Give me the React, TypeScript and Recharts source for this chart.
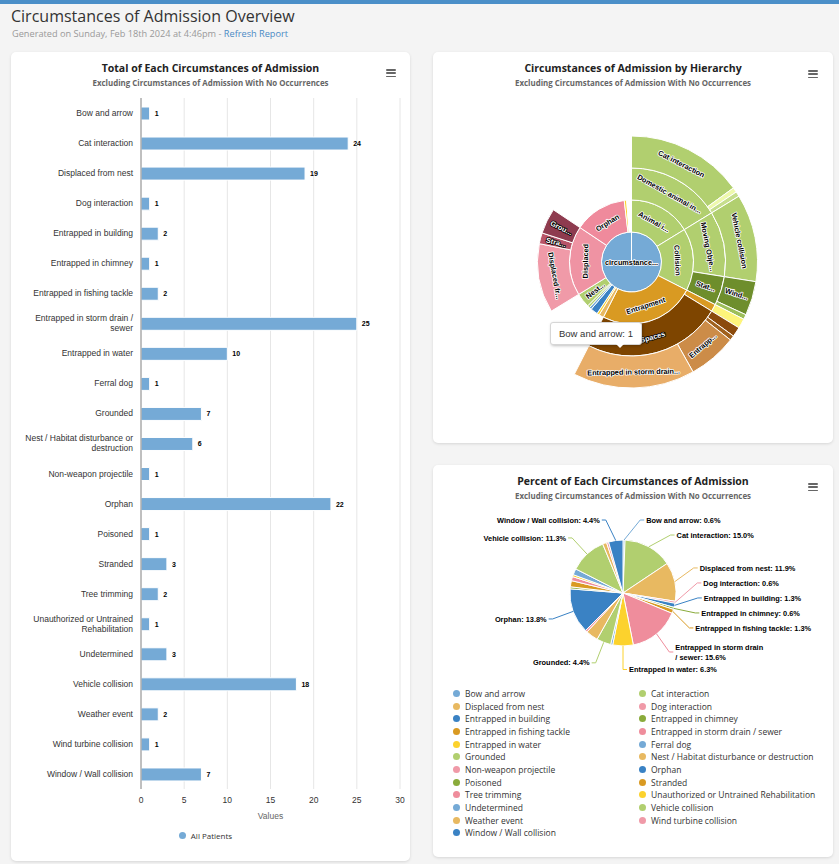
import React from 'react';
import { BarChart, Bar, XAxis, YAxis, CartesianGrid, LabelList, Legend, PieChart, Pie, Cell } from 'recharts';

// ---------- data ----------
const categories = [
  'Bow and arrow', 'Cat interaction', 'Displaced from nest', 'Dog interaction', 'Entrapped in building',
  'Entrapped in chimney', 'Entrapped in fishing tackle', 'Entrapped in storm drain / sewer', 'Entrapped in water',
  'Ferral dog', 'Grounded', 'Nest / Habitat disturbance or destruction', 'Non-weapon projectile', 'Orphan',
  'Poisoned', 'Stranded', 'Tree trimming', 'Unauthorized or Untrained Rehabilitation', 'Undetermined',
  'Vehicle collision', 'Weather event', 'Wind turbine collision', 'Window / Wall collision',
];
const patientCounts = [1, 24, 19, 1, 2, 1, 2, 25, 10, 1, 7, 6, 1, 22, 1, 3, 2, 1, 3, 18, 2, 1, 7];
const valueTicks = [0, 5, 10, 15, 20, 25, 30];
const seriesName = 'All Patients';

const sunburstRootName = 'circumstances of admission';
const sunburstLeafOrder = [
  'Cat interaction', 'Dog interaction', 'Ferral dog',
  'Vehicle collision', 'Window / Wall collision', 'Wind turbine collision',
  'Entrapped in fishing tackle', 'Entrapped in building', 'Entrapped in chimney', 'Entrapped in water',
  'Entrapped in storm drain / sewer',
  'Weather event', 'Poisoned', 'Undetermined', 'Bow and arrow', 'Non-weapon projectile',
  'Nest / Habitat disturbance or destruction',
  'Displaced from nest', 'Stranded', 'Grounded',
  'Orphan', 'Unauthorized or Untrained Rehabilitation', 'Tree trimming',
];
const sunburstLeafPaths: string[][] = [
  ['Animal interaction', 'Domestic animal interaction'], ['Animal interaction', 'Domestic animal interaction'], ['Animal interaction', 'Domestic animal interaction'],
  ['Collision', 'Moving Object Collision'], ['Collision', 'Stationary Object Collision'], ['Collision', 'Stationary Object Collision'],
  ['Entrapment', 'Entanglement'], ['Entrapment', 'Spaces'], ['Entrapment', 'Spaces'], ['Entrapment', 'Spaces'],
  ['Entrapment', 'Spaces'],
  [], [], [], [], [],
  [],
  ['Displaced'], ['Displaced'], ['Displaced'],
  [], [], [],
];

const pieLabelShown = [
  'Bow and arrow', 'Cat interaction', 'Displaced from nest', 'Dog interaction', 'Entrapped in building',
  'Entrapped in chimney', 'Entrapped in fishing tackle', 'Entrapped in storm drain / sewer', 'Entrapped in water',
  'Grounded', 'Orphan', 'Vehicle collision', 'Window / Wall collision',
];

// ---------- styles ----------
const palette = ['#75aad6', '#b1cf6f', '#e8b961', '#f09aa8', '#3a82c4', '#8aab3b', '#d99a22', '#ef8d9c', '#fcd22d'];
const sunColors: Record<string, string> = {
  [sunburstRootName]: '#75aad6',
  'Animal interaction': '#b1cf6f', 'Domestic animal interaction': '#b1cf6f', 'Cat interaction': '#b1cf6f',
  'Dog interaction': '#eef9ac', 'Ferral dog': '#c6de8c',
  'Collision': '#b1cf6f', 'Moving Object Collision': '#b1cf6f', 'Vehicle collision': '#b1cf6f',
  'Stationary Object Collision': '#6e8e2c', 'Window / Wall collision': '#6e8e2c', 'Wind turbine collision': '#9dbf5a',
  'Entrapment': '#d99a22', 'Entanglement': '#d99a22', 'Entrapped in fishing tackle': '#fdf47a',
  'Spaces': '#7e4500', 'Entrapped in building': '#8b4a0c', 'Entrapped in chimney': '#a0611e',
  'Entrapped in water': '#cc8c48', 'Entrapped in storm drain / sewer': '#e8ad68',
  'Weather event': '#e8b961', 'Poisoned': '#fcd22d', 'Undetermined': '#3a82c4', 'Bow and arrow': '#75aad6',
  'Non-weapon projectile': '#b1cf6f', 'Nest / Habitat disturbance or destruction': '#b1cf6f',
  'Displaced': '#ef93a3', 'Displaced from nest': '#f09aa8', 'Stranded': '#b85468', 'Grounded': '#8e3b4f',
  'Orphan': '#ef8a9c', 'Unauthorized or Untrained Rehabilitation': '#fcd22d', 'Tree trimming': '#ffffff',
};
const FONT_UI = '"Open Sans", "Noto Sans", sans-serif';
const FONT_CHART = '"Liberation Sans", Arial, sans-serif';

// ---------- derived tables ----------
const total = patientCounts.reduce((a, b) => a + b, 0);
const barData = categories.map((name, i) => ({ name, value: patientCounts[i] }));
const pieData = categories.map((name, i) => ({ name, value: patientCounts[i] }));

type Seg = { key: string; name: string; value: number; empty: boolean };
function buildRing(depth: number): Seg[] {
  const segs: Seg[] = [];
  sunburstLeafOrder.forEach((leaf, i) => {
    const path = sunburstLeafPaths[i];
    const v = patientCounts[categories.indexOf(leaf)];
    let name = '';
    let empty = false;
    if (path.length >= depth) name = path[depth - 1];
    else if (path.length === depth - 1) name = leaf;
    else empty = true;
    const key = empty ? '__empty' : [...path.slice(0, depth - 1), name].join('>');
    const last = segs[segs.length - 1];
    if (last && last.key === key) last.value += v;
    else segs.push({ key, name, value: v, empty });
  });
  return segs;
}
const sunRings: Seg[][] = [
  [{ key: 'root', name: sunburstRootName, value: total, empty: false }],
  buildRing(1), buildRing(2), buildRing(3),
];
const sunRadii = [[0, 30], [30, 62], [62, 94], [94, 126]];

function isDark(hex: string) {
  const h = hex.replace('#', '');
  const r = parseInt(h.slice(0, 2), 16), g = parseInt(h.slice(2, 4), 16), b = parseInt(h.slice(4, 6), 16);
  return 0.299 * r + 0.587 * g + 0.114 * b < 120;
}
function truncate(name: string, avail: number, cw = 3.6) {
  const max = Math.floor(avail / cw);
  if (name.length <= max) return name;
  return name.slice(0, Math.max(1, max - 3)).trimEnd() + '...';
}

const makeSunLabel = (depth: number) => (props: any) => {
  const { cx, cy, midAngle, innerRadius, outerRadius, index } = props;
  const seg = sunRings[depth][index];
  if (!seg || seg.empty) return null;
  const color = sunColors[seg.name] || '#ccc';
  const dark = isDark(color);
  const common = {
    fontSize: 7.3, fontWeight: 700, fontFamily: FONT_CHART, fill: dark ? '#fff' : '#000',
    stroke: dark ? '#000' : '#fff', strokeWidth: 1.6, paintOrder: 'stroke' as any, strokeLinejoin: 'round' as any,
    textAnchor: 'middle' as any, dominantBaseline: 'central' as any,
  };
  if (depth === 0) {
    return <text x={cx} y={cy} {...common}>{truncate(seg.name, outerRadius * 2 - 6)}</text>;
  }
  const theta = (((90 - midAngle) % 360) + 360) % 360;
  const rad = (seg.value / total) * 2 * Math.PI;
  const thick = outerRadius - innerRadius;
  const midR = (innerRadius + outerRadius) / 2;
  const arcMid = midR * rad;
  if (arcMid < 9) return null;
  const parallel = outerRadius * rad > 1.5 * thick;
  let rot: number;
  let avail: number;
  if (parallel) {
    rot = theta > 90 && theta < 270 ? theta - 180 : theta;
    avail = arcMid - 4;
  } else {
    rot = theta > 180 ? theta - 270 : theta - 90;
    avail = thick - 6;
  }
  const t = (theta * Math.PI) / 180;
  const x = cx + midR * Math.sin(t);
  const y = cy - midR * Math.cos(t);
  return (
    <text x={x} y={y} transform={`rotate(${rot} ${x} ${y})`} {...common}>
      {truncate(seg.name, avail)}
    </text>
  );
};

// ---------- pie label layout ----------
const PIE_CX = 190, PIE_CY = 128, PIE_R = 53, PIE_LABEL_R = 75;
type PL = { name: string; theta: number; lines: string[]; h: number; right: boolean; ny: number; show: boolean; y: number; ax: number; tx: number };
function wrapPieLabel(text: string): string[] {
  if (text.length <= 36) return [text];
  const cut = text.lastIndexOf(' ', 25);
  return [text.slice(0, cut), text.slice(cut + 1)];
}
function layoutPieLabels(): PL[] {
  let acc = 0;
  const items: PL[] = categories.map((name, i) => {
    const v = patientCounts[i];
    const theta = ((acc + v / 2) / total) * 360;
    acc += v;
    const text = `${name}: ${((v / total) * 100).toFixed(1)}%`;
    const lines = wrapPieLabel(text);
    return {
      name, theta, lines, h: lines.length === 1 ? 15 : 20, right: theta <= 180,
      ny: PIE_CY - PIE_LABEL_R * Math.cos((theta * Math.PI) / 180), show: pieLabelShown.includes(name), y: 0, ax: 0, tx: 0,
    };
  });
  const minTop = PIE_CY - PIE_LABEL_R - 5.5;
  const maxBottom = PIE_CY + PIE_LABEL_R + 12;
  [true, false].forEach((side) => {
    const list = items.filter((it) => it.show && it.right === side).sort((a, b) => a.ny - b.ny);
    const place = (its: PL[], size: number) => {
      const ys = its.map((it) => it.ny);
      const mid = (Math.min(...ys) + Math.max(...ys)) / 2;
      return Math.max(minTop, Math.min(maxBottom - size, mid - size / 2));
    };
    let clusters = list.map((it) => ({ items: [it], top: place([it], it.h), size: it.h }));
    let changed = true;
    let guard = 0;
    while (changed && guard++ < 100) {
      changed = false;
      for (let k = 1; k < clusters.length; k++) {
        const a = clusters[k - 1], b = clusters[k];
        if (a.top + a.size > b.top + 0.01) {
          const its = [...a.items, ...b.items];
          const size = a.size + b.size;
          clusters.splice(k - 1, 2, { items: its, top: place(its, size), size });
          changed = true;
          break;
        }
      }
    }
    clusters.forEach((c) => {
      let off = 0;
      c.items.forEach((it) => {
        it.y = c.top + off + it.h / 2;
        off += it.h;
        const s = Math.max(-1, Math.min(1, (it.y - PIE_CY) / PIE_LABEL_R));
        const dx = PIE_LABEL_R * Math.cos(Math.asin(s));
        it.ax = PIE_CX + (side ? dx : -dx);
        it.tx = it.ax + (side ? 6 : -6);
      });
    });
  });
  return items;
}
const pieLabels = layoutPieLabels();

const renderPieLabel = (props: any) => {
  const { index, cx, cy, outerRadius, fill } = props;
  const it = pieLabels[index];
  if (!it || !it.show) return null;
  const t = (it.theta * Math.PI) / 180;
  const ex = cx + outerRadius * Math.sin(t);
  const ey = cy - outerRadius * Math.cos(t);
  const dir = it.right ? 1 : -1;
  const color = palette[index % palette.length] || fill;
  const lh = 10;
  const start = it.y - ((it.lines.length - 1) * lh) / 2;
  return (
    <g>
      <path d={`M${ex},${ey} L${it.ax},${it.y} L${it.tx - dir * 2},${it.y}`} stroke={color} fill="none" strokeWidth={1} />
      <text textAnchor={it.right ? 'start' : 'end'} fontSize={7.4} fontWeight={700} fontFamily={FONT_CHART} fill="#000"
        stroke="#fff" strokeWidth={1.5} style={{ paintOrder: 'stroke' }}>
        {it.lines.map((l, k) => (
          <tspan key={k} x={it.tx} y={start + k * lh} dy="0.35em">{l}</tspan>
        ))}
      </text>
    </g>
  );
};

// ---------- small components ----------
function wrapTick(label: string, maxChars = 30): string[] {
  const words = label.split(' ');
  const lines: string[] = [];
  let cur = '';
  words.forEach((w) => {
    const next = cur ? cur + ' ' + w : w;
    if (next.length > maxChars && cur) { lines.push(cur); cur = w; } else cur = next;
  });
  if (cur) lines.push(cur);
  return lines;
}
const CategoryTick = (props: any) => {
  const { x, y, payload } = props;
  const lines = wrapTick(String(payload.value));
  const lh = 10;
  const start = y - ((lines.length - 1) * lh) / 2;
  return (
    <text textAnchor="end" fontSize={8.5} fill="#333" fontFamily={FONT_CHART}>
      {lines.map((l, k) => (
        <tspan key={k} x={x} y={start + k * lh} dy="0.35em">{l}</tspan>
      ))}
    </text>
  );
};

const Burger = ({ right, top }: { right: number; top: number }) => (
  <div style={{ position: 'absolute', right, top, width: 10 }}>
    {[0, 1, 2].map((k) => (
      <div key={k} style={{ height: 1.6, background: '#666', marginBottom: 1.8, borderRadius: 1 }} />
    ))}
  </div>
);

const CardTitle = ({ title }: { title: string }) => (
  <>
    <div style={{ position: 'absolute', left: 0, right: 0, top: 9, textAlign: 'center', fontFamily: FONT_UI, fontWeight: 700, fontSize: 10.5, color: '#222', whiteSpace: 'nowrap' }}>{title}</div>
    <div style={{ position: 'absolute', left: 0, right: 0, top: 26, textAlign: 'center', fontFamily: FONT_UI, fontWeight: 700, fontSize: 7.9, color: '#666', whiteSpace: 'nowrap' }}>Excluding Circumstances of Admission With No Occurrences</div>
  </>
);

const cardStyle: React.CSSProperties = {
  position: 'absolute', background: '#fff', borderRadius: 5, boxShadow: '0 1px 3px rgba(0,0,0,0.12)', overflow: 'hidden',
};

export default function App() {
  return (
    <div style={{ position: 'absolute', left: 0, top: 0, width: 839, height: 864, background: '#f4f4f4', overflow: 'hidden', fontFamily: FONT_UI }}>
      <div style={{ position: 'absolute', left: 0, top: 0, width: 839, height: 4, background: '#4b8fc8' }} />
      <div style={{ position: 'absolute', left: 11, top: 5, fontSize: 16, color: '#333', whiteSpace: 'nowrap' }}>Circumstances of Admission Overview</div>
      <div style={{ position: 'absolute', left: 12, top: 27, fontSize: 9.2, color: '#999', whiteSpace: 'nowrap' }}>
        Generated on Sunday, Feb 18th 2024 at 4:46pm - <span style={{ color: '#4a8ac4' }}>Refresh Report</span>
      </div>

      {/* Bar chart card */}
      <div style={{ ...cardStyle, left: 11, top: 52, width: 399, height: 809 }}>
        <CardTitle title="Total of Each Circumstances of Admission" />
        <Burger right={14} top={17} />
        <div style={{ position: 'absolute', left: 0, top: 0 }}>
          <BarChart width={399} height={809} data={barData} layout="vertical" margin={{ top: 46, right: 10, bottom: 16, left: 0 }} barCategoryGap={8}>
            <CartesianGrid horizontal={false} stroke="#e6e6e6" />
            <XAxis type="number" domain={[0, 30]} ticks={valueTicks} axisLine={false} tickLine={false} height={32}
              tick={{ fontSize: 8.5, fill: '#333', fontFamily: FONT_CHART }}
              label={{ value: 'Values', position: 'insideBottom', offset: 2, fontSize: 8.5, fill: '#666', fontFamily: FONT_CHART }} />
            <YAxis type="category" dataKey="name" width={130} axisLine={{ stroke: '#8c8c8c' }} tickLine={false} tick={<CategoryTick />} interval={0} />
            <Legend verticalAlign="bottom" align="center" content={() => (
              <div style={{ height: 24, display: 'flex', justifyContent: 'center', alignItems: 'center', paddingTop: 5, boxSizing: 'border-box' }}>
                <span style={{ width: 7, height: 7, borderRadius: 4, background: '#75aad6', display: 'inline-block', marginRight: 5 }} />
                <span style={{ fontSize: 8, color: '#333', fontFamily: FONT_UI }}>{seriesName}</span>
              </div>
            )} />
            <Bar dataKey="value" name={seriesName} fill="#75aad6" stroke="#ffffff" strokeWidth={1} barSize={13} isAnimationActive={false}>
              <LabelList dataKey="value" position="right" offset={5} fontSize={7} fontWeight={700} fill="#000" fontFamily={FONT_CHART} />
            </Bar>
          </BarChart>
        </div>
      </div>

      {/* Sunburst card */}
      <div style={{ ...cardStyle, left: 433, top: 52, width: 400, height: 391 }}>
        <CardTitle title="Circumstances of Admission by Hierarchy" />
        <Burger right={15} top={18} />
        <div style={{ position: 'absolute', left: 0, top: 0 }}>
          <PieChart width={400} height={391} margin={{ top: 0, right: 0, bottom: 0, left: 0 }}>
            {sunRings.map((ring, d) => (
              <Pie key={d} data={ring} dataKey="value" nameKey="name" cx={198.5} cy={210}
                innerRadius={sunRadii[d][0]} outerRadius={sunRadii[d][1]} startAngle={90} endAngle={-270}
                stroke="#ffffff" strokeWidth={1} isAnimationActive={false} labelLine={false} label={makeSunLabel(d)}>
                {ring.map((seg, k) => (
                  <Cell key={k} fill={seg.empty ? 'transparent' : sunColors[seg.name] || '#ccc'} stroke={seg.empty ? 'none' : '#ffffff'} />
                ))}
              </Pie>
            ))}
          </PieChart>
        </div>
        <div style={{ position: 'absolute', left: 117, top: 270, padding: '0 8px', height: 21, lineHeight: '21px', background: '#fff', border: '1px solid #d6d6d6', borderRadius: 3, boxShadow: '1px 1px 3px rgba(0,0,0,0.25)', fontFamily: FONT_CHART, fontSize: 9.5, color: '#333', whiteSpace: 'nowrap' }}>
          Bow and arrow: 1
        </div>
        <div style={{ position: 'absolute', left: 183, top: 292, width: 0, height: 0, borderLeft: '4px solid transparent', borderRight: '4px solid transparent', borderTop: '4px solid #fff' }} />
      </div>

      {/* Pie card */}
      <div style={{ ...cardStyle, left: 433, top: 465, width: 400, height: 392 }}>
        <CardTitle title="Percent of Each Circumstances of Admission" />
        <Burger right={15} top={18} />
        <div style={{ position: 'absolute', left: 0, top: 0 }}>
          <PieChart width={400} height={392} margin={{ top: 0, right: 0, bottom: 0, left: 0 }}>
            <Pie data={pieData} dataKey="value" nameKey="name" cx={PIE_CX} cy={PIE_CY} outerRadius={PIE_R}
              startAngle={90} endAngle={-270} stroke="#ffffff" strokeWidth={1} isAnimationActive={false}
              labelLine={false} label={renderPieLabel}>
              {pieData.map((d, i) => (
                <Cell key={d.name} fill={palette[i % palette.length]} />
              ))}
            </Pie>
            <Legend verticalAlign="bottom" wrapperStyle={{ left: 20, top: 222, bottom: 'auto', width: 378 }}
              content={(p: any) => (
                <div style={{ display: 'grid', gridTemplateColumns: '186px 192px', fontFamily: FONT_UI }}>
                  {(p.payload || []).map((e: any, i: number) => (
                    <div key={i} style={{ height: 12.7, display: 'flex', alignItems: 'center', whiteSpace: 'nowrap' }}>
                      <span style={{ width: 7, height: 7, borderRadius: 4, background: palette[i % palette.length], display: 'inline-block', marginRight: 5, flex: 'none' }} />
                      <span style={{ fontSize: 8.5, color: '#333' }}>{e.value}</span>
                    </div>
                  ))}
                </div>
              )} />
          </PieChart>
        </div>
      </div>
    </div>
  );
}
